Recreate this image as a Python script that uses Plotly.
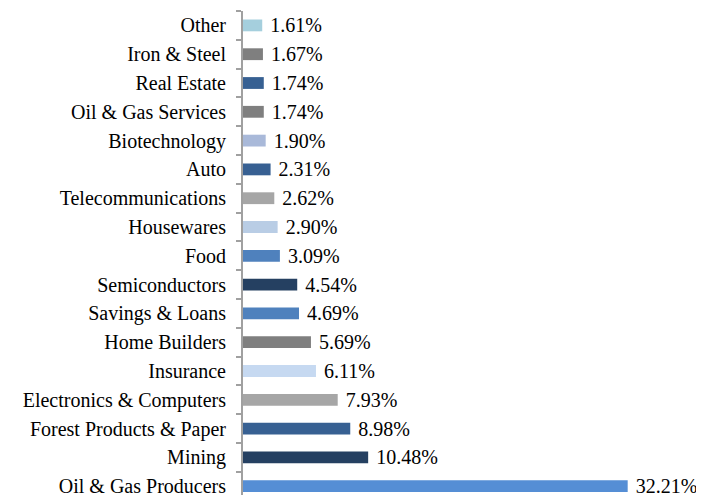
import plotly.graph_objects as go

categories = ["Oil & Gas Producers", "Mining", "Forest Products & Paper", "Electronics & Computers",
              "Insurance", "Home Builders", "Savings & Loans", "Semiconductors", "Food", "Housewares",
              "Telecommunications", "Auto", "Biotechnology", "Oil & Gas Services", "Real Estate",
              "Iron & Steel", "Other"]
values = [32.21, 10.48, 8.98, 7.93, 6.11, 5.69, 4.69, 4.54, 3.09, 2.90, 2.62, 2.31, 1.90, 1.74, 1.74, 1.67, 1.61]
colors = ["#558ED5", "#254061", "#376092", "#A6A6A6", "#C6D9F1", "#7F7F7F", "#4F81BD", "#254061",
          "#4F81BD", "#B9CDE5", "#A6A6A6", "#376092", "#A9B9D9", "#7F7F7F", "#376092", "#7F7F7F", "#A5CFDD"]

font = dict(family="Liberation Serif, Times New Roman, serif", size=20, color="#000000")

fig = go.Figure()
fig.add_trace(go.Bar(
    x=values, y=categories, orientation="h",
    marker=dict(color=colors, line=dict(width=0)),
    text=["\u00a0" + f"{v:.2f}%" for v in values], textposition="outside",
    textfont=font, cliponaxis=False, constraintext="none",
))
fig.update_layout(
    width=696, height=487,
    margin=dict(l=235, r=0, t=3, b=0, autoexpand=False),
    paper_bgcolor="white", plot_bgcolor="white",
    bargap=0.59, showlegend=False, font=font,
)
fig.update_xaxes(range=[0, 38.6], visible=False, automargin=False)
fig.update_yaxes(
    type="category", range=[-0.305, 16.5], automargin=False,
    showline=True, linecolor="#A0A0A0", linewidth=2,
    ticks="outside", tickson="boundaries", ticklen=5, tickcolor="#A0A0A0", tickwidth=1.5,
    showgrid=False, tickfont=font, ticklabelstandoff=11,
)
fig.write_html("out.html")
